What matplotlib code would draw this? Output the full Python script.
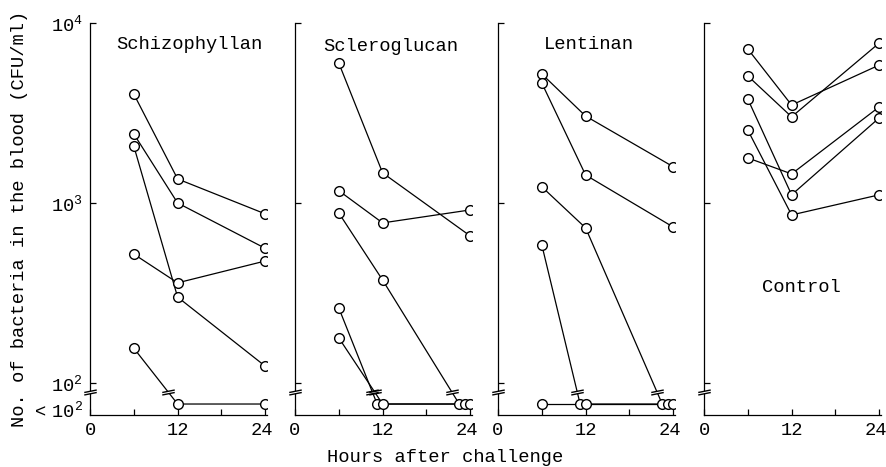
import numpy as np
import matplotlib
matplotlib.use("Agg")
import matplotlib.pyplot as plt
import matplotlib.transforms as mtransforms
from matplotlib.path import Path
from matplotlib.ticker import NullLocator

plt.rcParams["font.family"] = ["Liberation Mono", "DejaVu Sans Mono"]
plt.rcParams["mathtext.fontset"] = "custom"
plt.rcParams["mathtext.rm"] = "Liberation Mono"
plt.rcParams["mathtext.it"] = "Liberation Mono"

# =====================================================
# Data (CFU/ml), ND = below detection limit (< 10^2)
# =====================================================

ND = 0
HOURS = [6, 12, 24]

PANELS = ["Schizophyllan", "Scleroglucan", "Lentinan", "Control"]

schizophyllan = [
    [4030, 1360, 870],
    [2420, 1000, 560],
    [2070, 300, 124],
    [520, 360, 476],
    [156, ND, ND],
]

scleroglucan = [
    [5990, 1470, 656],
    [1170, 775, 915],
    [880, 373, ND],
    [261, ND, ND],
    [178, ND, ND],
]

lentinan = [
    [5210, 3040, 1590],
    [4640, 1430, 735],
    [1230, 727, ND],
    [585, ND, ND],
    [ND, ND, ND],
]

control = [
    [7170, 3500, 5840],
    [5080, 3010, 7740],
    [3780, 1110, 2970],
    [2540, 858, 1110],
    [1780, 1450, 3420],
]

ALL_DATA = [schizophyllan, scleroglucan, lentinan, control]

# =====================================================
# Layout
# =====================================================

FLOOR = 10 ** 1.883      # where ND points are drawn
FLOOR_LABEL = 10 ** 1.855
BREAK = 10 ** 1.95       # axis break level
YMIN = 10 ** 1.822
YMAX = 1e4
XMAX = 24.3
SHIFT = 0.75             # spread of overlapping ND circles (hours)

W, H = 886, 467
lefts = [90, 295, 498, 704]
ax_w = 177.4
ax_bottom = 415
ax_top = 23

title_pos = [(0.56, 0.944), (0.54, 0.94), (0.51, 0.944), (0.548, 0.324)]

FS = 13.5

# break marker: two slanted strokes, plus a white mask between them
break_strokes = Path(
    [(-1, -0.4), (1, 0.0), (-1, 0.0), (1, 0.4)],
    [Path.MOVETO, Path.LINETO, Path.MOVETO, Path.LINETO],
)
break_mask = Path(
    [(-1, -0.4), (1, 0.0), (1, 0.4), (-1, 0.0), (-1, -0.4)],
    [Path.MOVETO, Path.LINETO, Path.LINETO, Path.LINETO, Path.CLOSEPOLY],
)


def draw_break(ax, x, y, clip=True):
    ax.plot(x, y, marker=break_mask, markersize=9, color="white",
            markeredgewidth=0, linestyle="none", zorder=4, clip_on=clip)
    ax.plot(x, y, marker=break_strokes, markersize=9, color="black",
            markerfacecolor="none", markeredgewidth=1.0, linestyle="none",
            zorder=5, clip_on=clip)


fig = plt.figure(figsize=(W / 100, H / 100), dpi=100)

for p, (name, data) in enumerate(zip(PANELS, ALL_DATA)):
    ax = fig.add_axes([
        lefts[p] / W,
        (H - ax_bottom) / H,
        ax_w / W,
        (ax_bottom - ax_top) / H,
    ])

    # x positions, spreading overlapping ND points to the left
    xs = [[float(h) for h in HOURS] for _ in data]
    for j in range(len(HOURS)):
        below = [i for i, row in enumerate(data) if row[j] == ND]
        n = len(below)
        for rank, i in enumerate(below):
            xs[i][j] = HOURS[j] - (n - 1 - rank) * SHIFT

    for i, row in enumerate(data):
        ys = [FLOOR if v == ND else v for v in row]
        ax.plot(xs[i], ys, color="black", linewidth=0.9, zorder=2)
        ax.plot(xs[i], ys, linestyle="none", marker="o", markersize=7,
                markerfacecolor="white", markeredgecolor="black",
                markeredgewidth=1.0, zorder=6)

        # break marks where a line drops below detection
        for j in range(len(row) - 1):
            if row[j] != ND and row[j + 1] == ND:
                l0, l1 = np.log10(ys[j]), np.log10(ys[j + 1])
                t = (np.log10(BREAK) - l0) / (l1 - l0)
                bx = xs[i][j] + t * (xs[i][j + 1] - xs[i][j])
                draw_break(ax, bx, BREAK)

    ax.set_yscale("log")
    ax.set_ylim(YMIN, YMAX)
    ax.set_xlim(0, XMAX)

    ax.spines["top"].set_visible(False)
    ax.spines["right"].set_visible(False)
    for s in ["left", "bottom"]:
        ax.spines[s].set_linewidth(0.9)

    ax.set_xticks([0, 6, 12, 18, 24])
    ax.set_xticklabels(["0", "", "12", "", "24"], fontsize=FS)
    ax.set_yticks([FLOOR_LABEL, 1e2, 1e3, 1e4])
    ax.yaxis.set_minor_locator(NullLocator())
    if p == 0:
        ax.set_yticklabels([
            r"$\mathregular{<\ 10^2}$",
            r"$\mathregular{10^2}$",
            r"$\mathregular{10^3}$",
            r"$\mathregular{10^4}$",
        ], fontsize=FS)
    else:
        ax.set_yticklabels(["", "", "", ""])
    ax.yaxis.get_major_ticks()[0].tick1line.set_visible(False)
    ax.tick_params(direction="in", length=4, width=0.9, pad=5)

    # nudge the "24" labels a little left, as in the original
    shift = mtransforms.ScaledTranslation(-3 / 100, 0, fig.dpi_scale_trans)
    last = ax.get_xticklabels()[-1]
    last.set_transform(last.get_transform() + shift)

    draw_break(ax, 0, BREAK, clip=False)

    ax.text(title_pos[p][0], title_pos[p][1], name, transform=ax.transAxes,
            ha="center", va="center", fontsize=FS)

# =====================================================
# Axis labels
# =====================================================

fig.text(20 / W, 1 - 219 / H, "No. of bacteria in the blood (CFU/ml)",
         rotation=90, ha="center", va="center", fontsize=FS)
fig.text(445 / W, 1 - 458 / H, "Hours after challenge",
         ha="center", va="center", fontsize=FS)

fig.savefig("out.png", dpi=100)
